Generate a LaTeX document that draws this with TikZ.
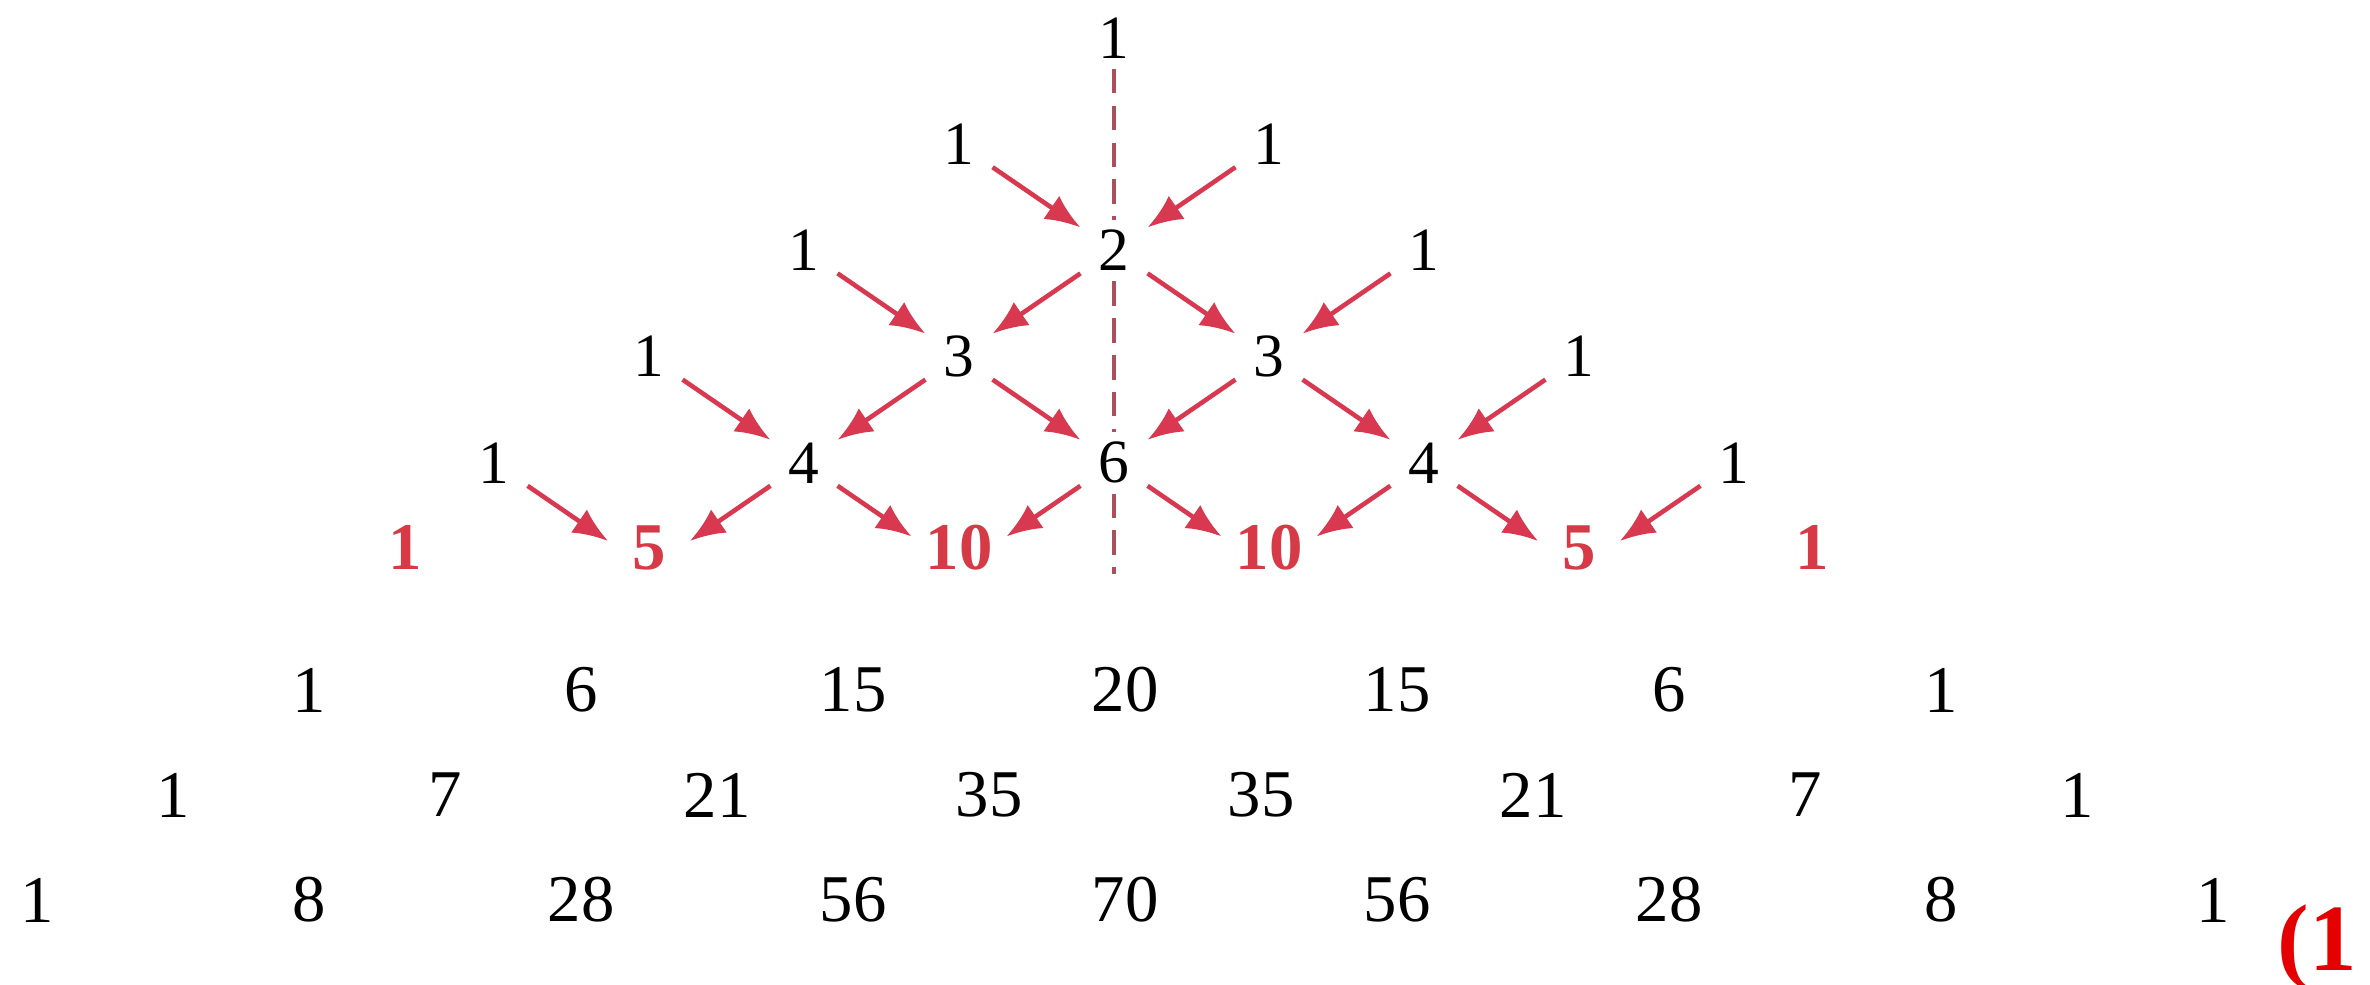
\documentclass[tikz,border=0pt]{standalone}
\usepackage{fontspec}
\setmainfont{Liberation Serif}
\usetikzlibrary{arrows.meta}
\definecolor{arrowred}{RGB}{216,56,80}
\definecolor{numred}{RGB}{214,58,70}
\definecolor{dashred}{RGB}{168,80,92}
\definecolor{eqred}{RGB}{228,0,0}

\begin{document}
\begin{tikzpicture}[>={Latex[length=10pt,width=8pt]},
    num/.style={circle,minimum size=0.8cm,inner sep=0pt,font=\fontsize{17.5}{21}\selectfont},
    bignum/.style={num,font=\fontsize{19}{23}\selectfont},
    rednum/.style={num,text=numred,text height=0.46cm,text depth=0.46cm,
                   font=\fontsize{19}{23}\selectfont\bfseries},
    sumarrow/.style={->,arrowred,line width=1.3pt},
    midline/.style={dashred,line width=0.9pt,dash pattern=on 7pt off 3.5pt}]
     \useasboundingbox (0,0) rectangle (23.7,-9.84);
     \clip (0,0) rectangle (23.7,-9.84);

     % rows 0 to 4
     \foreach \r/\vals in {0/{1},1/{1,1},2/{1,2,1},3/{1,3,3,1},4/{1,4,6,4,1}}
          \foreach \v [count=\k from 0] in \vals
               \node[num] (n\r-\k) at ({11.14+(2*\k-\r)*1.55},{-0.38-1.062*\r}) {\v};

     % row 5, the new sums in red (text sits a little above the lattice point)
     \node[rednum] (n5-0) at (4.05,-5.69) {1};
     \foreach \v [count=\k] in {5,10,10,5}
          \node[rednum] (n5-\k) at ({11.14+(2*\k-5)*1.55},-5.69) {\v};
     \node[rednum] (n5-5) at (18.12,-5.69) {1};

     % dashed symmetry line
     \coordinate (midend) at (11.14,-5.74);
     \draw[midline,shorten <=-1mm,shorten >=-1mm] (n0-0) -- (n2-1);
     \draw[midline,shorten <=-1mm,shorten >=-1mm] (n2-1) -- (n4-2);
     \draw[midline,shorten <=-1mm] (n4-2) -- (midend);

     % each number goes into the two below it
     \foreach \r in {1,...,4}
          \foreach \k in {0,...,\r}{
               \pgfmathtruncatemacro\nr{\r+1}
               \pgfmathtruncatemacro\nk{\k+1}
               \ifnum\k>0 \draw[sumarrow] (n\r-\k) -- (n\nr-\k); \fi
               \ifnum\k<\r \draw[sumarrow] (n\r-\k) -- (n\nr-\nk); \fi
          }

     % rows 6 to 8
     \foreach \r/\vals in {6/{1,6,15,20,15,6,1},7/{1,7,21,35,35,21,7,1},8/{1,8,28,56,70,56,28,8,1}}
          \foreach \v [count=\k from 0] in \vals
               \node[bignum] (n\r-\k) at ({11.25+(\k-\r/2)*2.72},{-6.90-1.05*(\r-6)}) {\v};

     % equation number, cut at the edge
     \node[font=\fontsize{27}{32}\selectfont\bfseries,text=eqred,anchor=base west,inner sep=0pt]
          (eqno) at (22.77,-9.70) {(1};
\end{tikzpicture}
\end{document}
